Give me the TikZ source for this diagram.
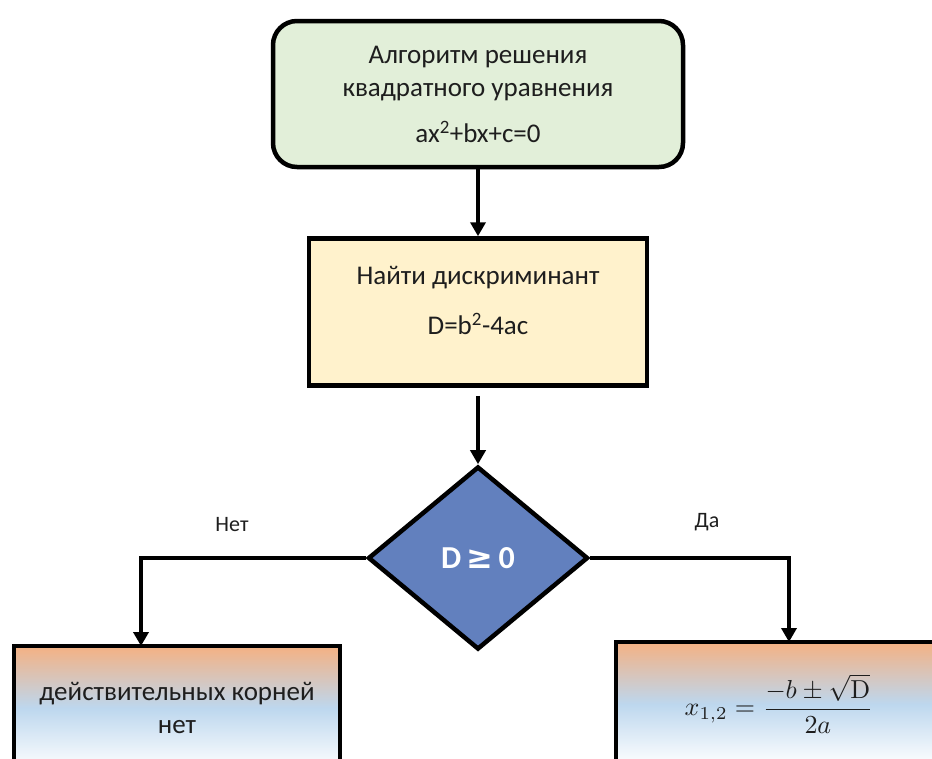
\documentclass[tikz,border=0pt]{standalone}
\usepackage{graphicx}
\usepackage[no-math]{fontspec}
\setmainfont{Carlito}
\newfontfamily\symfont{DejaVu Sans}
\usetikzlibrary{arrows.meta,calc,shapes.geometric}
\definecolor{StartClr}{RGB}{226,239,217}
\definecolor{StepClr}{RGB}{255,242,204}
\definecolor{CondClr}{RGB}{98,128,190}
\definecolor{TopClr}{RGB}{244,177,131}
\definecolor{MidClr}{RGB}{189,215,238}
\definecolor{TextClr}{RGB}{30,30,30}

\begin{document}
\begin{tikzpicture}[x=1pt,y=-1pt,
  box/.style={draw=black,line width=4.5pt,inner sep=0pt,align=center,text=TextClr,font=\fontsize{27}{33}\selectfont},
  endbox/.style={box,minimum width=326pt,minimum height=124pt,top color=TopClr,bottom color=white,middle color=MidClr},
  lbl/.style={text=TextClr,font=\fontsize{22}{26}\selectfont},
  flow/.style={line width=4.5pt,-{Triangle[width=15pt,length=14pt]}}]
\useasboundingbox (0,0) rectangle (932,758);
\clip (0,0) rectangle (932,758);

\node[box,rounded corners=24pt,fill=StartClr,minimum width=410pt,minimum height=146pt] (start) at (478,94) {Алгоритм решения\\квадратного уравнения\\[13pt]ax\textsuperscript{2}+bx+c=0};
\node[box,fill=StepClr,minimum width=338pt,minimum height=147pt] (step) at (478,312) {Найти дискриминант\\[17pt]D=b\textsuperscript{2}-4ac\\[-10pt]\mbox{}};
\node[box,diamond,fill=CondClr,minimum width=220pt,minimum height=183pt,text=white,font=\fontsize{32}{32}\selectfont\bfseries] (cond) at (478,558) {D\,{\symfont ≥}\,0};

\node[endbox] (noroot) at (177,708) {действительных корней\\нет};
\node[endbox] (roots) at (779,704) {\fontsize{10}{12}\selectfont\scalebox{2.6}{$\displaystyle x_{1,2}=\frac{-b\pm\sqrt{\mathrm{D}}}{2a}$}};

\node[lbl] (nolbl) at (232,525) {Нет};
\node[lbl] (yeslbl) at (707,522) {Да};

\coordinate (noend) at (141,646);
\coordinate (yesend) at (789,642);

\draw[flow] (start) -- (step);
\draw[flow,shorten <=8pt] (step) -- (cond);
\draw[flow] (cond.west) -| (noend);
\draw[flow] (cond.east) -| (yesend);

\end{tikzpicture}
\end{document}
